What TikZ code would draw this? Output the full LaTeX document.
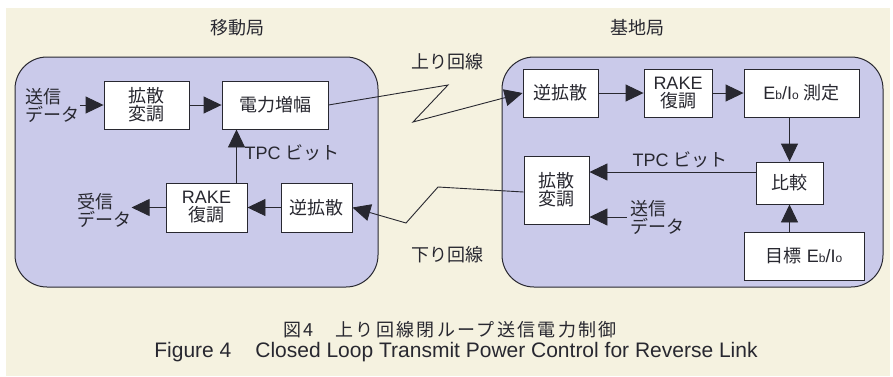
\documentclass[tikz,border=0pt]{standalone}
\usepackage{fontspec}
\setmainfont{Liberation Sans}
\newfontfamily\jp{Noto Sans CJK JP}
\usetikzlibrary{arrows.meta}
\definecolor{paper}{RGB}{245,242,224}
\definecolor{lilac}{RGB}{202,202,234}
\definecolor{ink}{RGB}{40,40,48}

\begin{document}
\begin{tikzpicture}[
  x=1pt,y=-1pt,
  >={Triangle[length=18pt,width=17pt]},
  station/.style={draw=ink, line width=1pt, fill=lilac, rounded corners=32pt},
  block/.style={draw=ink, line width=0.9pt, fill=white, inner sep=0pt, text=ink, align=center, font=\fontsize{18}{18}\selectfont},
  flow/.style={->, line width=0.9pt, draw=ink},
  radio/.style={->, line width=0.9pt, draw=ink},
  label/.style={text=ink, align=left, inner sep=1pt, font=\fontsize{18}{18}\selectfont},
  title/.style={text=ink, font=\fontsize{18}{18}\selectfont\jp}
]

% Page and paper tint
\useasboundingbox (0,0) rectangle (893,376);
\fill[white] (0,0) rectangle (893,376);
\fill[paper] (6,8) rectangle (890,376);

% Stations
\draw[station] (15,57) rectangle (378,287);
\draw[station] (502,57) rectangle (883,287);
\node[title] (msname) at (237,28) {移動局};
\node[title] (bsname) at (637,28) {基地局};

% Mobile station blocks
\node[block, minimum width=85pt, minimum height=48pt] (mspread) at (146.5,105) {{\jp 拡散}\\{\jp 変調}};
\node[block, minimum width=106pt, minimum height=48pt] (mamp) at (275,105) {\jp 電力増幅};
\node[block, minimum width=81pt, minimum height=49pt] (mrake) at (206.5,207.5) {RAKE\\{\jp 復調}};
\node[block, minimum width=71pt, minimum height=49pt] (mdespread) at (316.5,207.5) {\jp 逆拡散};
\node[label] (msend) at (52,105) {{\jp 送信}\\{\jp データ}};
\node[label] (mrecv) at (104,210) {{\jp 受信}\\{\jp データ}};
\node[label] (mtpc) at (292,153) {TPC {\jp ビット}};

% Base station blocks
\node[block, minimum width=75pt, minimum height=48pt] (bdespread) at (560.5,93) {\jp 逆拡散};
\node[block, minimum width=68pt, minimum height=48pt] (brake) at (678,93) {RAKE\\{\jp 復調}};
\node[block, minimum width=115pt, minimum height=48pt] (measure) at (801.5,93) {E{\fontsize{12}{12}\selectfont b}/I{\fontsize{12}{12}\selectfont o} {\jp 測定}};
\node[block, minimum width=67pt, minimum height=42pt] (compare) at (789.5,183) {\jp 比較};
\node[block, minimum width=120pt, minimum height=48pt] (target) at (804,256) {{\jp 目標} E{\fontsize{12}{12}\selectfont b}/I{\fontsize{12}{12}\selectfont o}};
\node[block, minimum width=65pt, minimum height=68pt] (bspread) at (556.5,190) {{\jp 拡散}\\{\jp 変調}};
\node[label] (bsend) at (657,217) {{\jp 送信}\\{\jp データ}};
\node[label] (btpc) at (680,160) {TPC {\jp ビット}};

% Radio links
\node[title] (uplink) at (447,62) {上り回線};
\node[title] (downlink) at (447,255) {下り回線};
\coordinate (up1) at (448,85);
\coordinate (up2) at (413,122);
\coordinate (dn1) at (438,187);
\coordinate (dn2) at (406,223);
\draw[radio] (mamp.east) -- (up1) -- (up2) -- (bdespread.west);
\draw[radio] ([yshift=-2pt]bspread.west) -- (dn1) -- (dn2) -- (mdespread.east);

% Mobile station flow
\draw[flow] (msend.east) -- (mspread.west);
\draw[flow] (mspread) -- (mamp);
\draw[flow] ([xshift=30pt]mrake.north) -- ([xshift=30pt]mrake.north |- mamp.south);
\draw[flow] (mdespread) -- (mrake);
\draw[flow] (mrake.west) -- ([xshift=-34pt]mrake.west);

% Base station flow
\draw[flow] (bdespread) -- (brake);
\draw[flow] (brake) -- (measure);
\draw[flow] (compare.north |- measure.south) -- (compare.north);
\draw[flow] (compare.south |- target.north) -- (compare.south);
\draw[flow] ([yshift=11pt]compare.west) -- ([yshift=11pt]compare.west -| bspread.east);
\draw[flow] ([xshift=-2pt]bsend.west) -- (bsend.west -| bspread.east);

% Caption
\node[text=ink, font=\fontsize{18}{18}\selectfont\jp\addfontfeature{LetterSpace=13}] (capjp) at (450,330) {図4\hspace{22pt}上り回線閉ループ送信電力制御};
\node[text=ink, font=\fontsize{21}{21}\selectfont] (capen) at (456,352) {Figure 4\hspace{24pt}Closed Loop Transmit Power Control for Reverse Link};

\end{tikzpicture}
\end{document}
